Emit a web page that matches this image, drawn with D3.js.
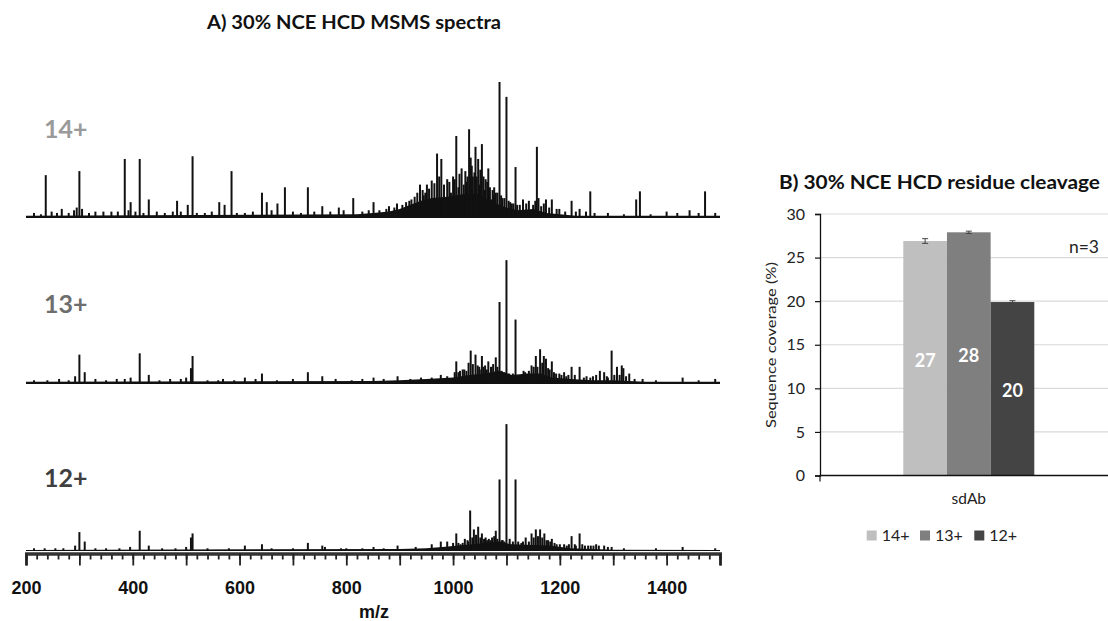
<!DOCTYPE html>
<html>
<head>
<meta charset="utf-8">
<script src="https://cdn.jsdelivr.net/npm/d3@7"></script>
<style>
  body { margin: 0; background: #fff; }
  svg { display: block; }
</style>
</head>
<body>
<svg id="chart" width="1108" height="621"></svg>
<script>
// ---------------- DATA ----------------
const mzMajorTicks = [200, 300, 400, 500, 600, 700, 800, 900, 1000, 1100, 1200, 1300, 1400, 1500];
const mzLabelTicks = [200, 400, 600, 800, 1000, 1200, 1400];
const chargeStates = ["14+", "13+", "12+"];

// peaks: [m/z, relative intensity (%)]
const peaks14 = [
  [237,31],[267,6],[295,7],[300,34],[385,43],[396,11],[413,43],[430,13],[483,12],[503,9],[512,45],
  [562,11],[572,9],[585,34],[642,18],[651,11],[671,10],[685,22],[728,22],[755,8],[786,7],[813,14],
  [851,11],[938,24],[951,24],[960,27],[970,47],[978,43],[989,28],[996,18],[1006,60],[1016,36],
  [1020,24],[1030,65],[1033,44],[1042,52],[1047,43],[1054,54],[1061,28],[1066,36],[1071,13],
  [1080,18],[1087,100],[1092,14],[1100,89],[1104,12],[1117,37],[1131,13],[1142,12],[1157,52],
  [1174,13],[1185,13],[1194,6],[1199,6],[1222,12],[1237,6],[1249,4],[1257,19],[1343,13],[1350,19],
  [1400,4],[1443,5],[1472,19],[1491,3],
  [215,3],[228,2],[248,4],[258,3],[280,3],[290,5],[305,6],[318,3],[330,4],[345,4],[360,4],[372,4],
  [392,5],[405,4],[420,3],[445,4],[460,3],[475,4],[490,4],[520,3],[535,3],[548,4],[595,3],[610,3],
  [625,4],[660,5],[700,4],[715,3],[740,4],[770,4],[795,5],[830,4],[842,5],[862,5],[875,6],[880,8],
  [890,7],[895,10],[905,9],[912,11],[918,12],[922,13],[928,15],[933,18],[945,16],[1010,22],[1025,26],
  [1037,30],[1050,24],[1058,20],[1075,16],[1110,10],[1125,9],[1137,10],[1150,9],[1165,8],[1180,7],
  [1210,4],[1230,4],[1265,3],[1290,3],[1320,2],[1370,2],[1420,3],[1460,3],
  [943,20],[948,18],[955,21],[965,25],[974,30],[983,24],[993,26],[1000,30],[1003,28],[1012,32],
  [1023,34],[1027,30],[1035,38],[1040,33],[1044,30],[1051,35],[1057,30],[1064,26],[1069,22],
  [1074,20],[1077,22],[1083,18],[1090,16],[1096,14],[1107,11],[1113,10],[1120,9],[1154,12],
  [1160,14],[1170,10]
];
const envelope14 = [
  [200,1],[820,2],[850,3],[880,4],[900,6],[920,9],[940,12],[960,14],[990,15],[1020,17],[1045,17],
  [1065,13],[1080,10],[1100,7],[1120,5],[1150,6],[1175,3],[1200,2],[1230,1],[1500,1]
];

const peaks13 = [
  [292,5],[300,21],[310,8],[396,4],[413,22],[430,6],[509,11],[512,20],[569,3],[610,4],[642,7],
  [728,8],[755,5],[851,4],[896,5],[960,4],[977,6],[989,5],[1006,16],[1018,10],[1029,15],[1033,24],
  [1042,21],[1046,13],[1054,20],[1060,13],[1066,16],[1071,12],[1080,19],[1087,60],[1100,91],
  [1105,7],[1117,47],[1122,4],[1135,8],[1142,9],[1147,13],[1155,20],[1158,12],[1163,25],[1170,20],
  [1174,18],[1178,11],[1185,16],[1193,7],[1199,7],[1208,8],[1222,12],[1237,12],[1257,4],[1268,6],
  [1275,9],[1283,8],[1297,24],[1307,12],[1316,13],[1319,11],[1330,7],[1355,3],[1430,4],[1491,3],
  [215,2],[240,2],[262,3],[280,2],[330,3],[350,2],[370,3],[385,3],[450,2],[470,3],[490,3],[500,4],
  [540,2],[560,2],[590,2],[630,3],[670,2],[700,3],[780,3],[810,2],[830,3],[870,3],[920,3],[940,4],
  [1010,8],[1025,9],[1050,10],[1093,8],[1128,6],[1212,5],[1245,4],[1290,4],[1340,3],[1380,2],[1460,2],
  [1003,8],[1013,9],[1021,10],[1037,14],[1049,12],[1057,12],[1063,10],[1075,14],[1083,12],[1091,9],
  [1096,8],[1112,7],[1132,9],[1151,12],[1167,15],[1181,10],[1189,8],[1203,6],[1216,6],[1228,6],
  [1250,5],[1262,5],[1288,5],[1302,6],[1312,6],[1324,5]
];
const envelope13 = [
  [200,1],[850,1.5],[900,2],[950,3],[1000,4],[1030,6],[1060,7],[1085,9],[1110,6],[1140,7],[1165,7],
  [1185,4],[1220,3],[1260,2],[1300,2],[1330,1.5],[1360,1],[1500,1]
];

const peaks12 = [
  [292,4],[300,14],[310,7],[413,15],[430,4],[509,10],[512,13],[610,4],[642,5],[728,6],[755,4],
  [790,2],[851,3],[896,4],[977,7],[989,7],[1006,13],[1014,5],[1022,9],[1032,30],[1039,16],[1047,18],
  [1054,13],[1061,10],[1067,9],[1080,15],[1087,53],[1100,94],[1106,9],[1117,53],[1122,7],[1136,10],
  [1142,7],[1147,13],[1155,16],[1163,16],[1171,13],[1178,8],[1185,9],[1194,5],[1208,5],[1222,11],
  [1237,13],[1247,4],[1258,4],[1268,5],[1283,4],[1297,3],[1430,3],[1491,2],
  [215,2],[235,2],[255,2],[270,2],[330,2],[350,2],[375,2],[395,3],[455,2],[480,2],[500,3],[540,2],
  [580,2],[660,2],[700,2],[760,3],[800,2],[830,2],[870,2],[930,3],[960,5],[1000,6],[1028,7],[1070,8],
  [1093,8],[1128,6],[1213,4],[1230,4],[1320,2],[1380,2],
  [1010,6],[1018,6],[1027,8],[1036,10],[1043,12],[1051,10],[1058,9],[1064,8],[1073,10],[1077,11],
  [1083,9],[1091,8],[1096,7],[1112,7],[1131,7],[1151,10],[1159,11],[1167,10],[1175,8],[1182,7],
  [1190,6],[1200,5],[1217,5],[1228,5],[1242,5],[1253,4],[1263,4],[1273,4],[1290,3]
];
const envelope12 = [
  [200,0.8],[900,1.5],[950,2],[980,3],[1020,4.5],[1060,6],[1085,7],[1110,5],[1150,4.5],[1180,4],
  [1220,2],[1260,1.5],[1300,1],[1500,0.8]
];

// Bar chart (panel B)
const barCategories = ["sdAb"];
const barSeries = ["14+", "13+", "12+"];
const barValues = [26.9, 27.9, 19.9];
const barErrors = [0.27, 0.13, 0.15];
const barYTicks = [0, 5, 10, 15, 20, 25, 30];

// ---------------- STYLE ----------------
const labelColors = ["#9a9a9a", "#6e6e6e", "#404040"];
const barColors = ["#bfbfbf", "#7f7f7f", "#444444"];
const sansA = "Liberation Sans, Arial, sans-serif";
const sansB = "Lato, 'Open Sans', sans-serif";

const svg = d3.select("#chart");
svg.append("rect").attr("width", 1108).attr("height", 621).attr("fill", "#fff");

// ---------------- PANEL A ----------------
const x = d3.scaleLinear().domain([200, 1500]).range([26, 720]);
const baselines = [217, 383, 551];
const peakHeight = 135;
const spectra = [
  { peaks: peaks14, env: envelope14 },
  { peaks: peaks13, env: envelope13 },
  { peaks: peaks12, env: envelope12 }
];
const labelBaselines = [138, 312.5, 487];

svg.append("text")
  .attr("x", 207).attr("y", 29)
  .attr("textLength", 294).attr("lengthAdjust", "spacingAndGlyphs")
  .attr("font-family", sansB).attr("font-weight", "bold").attr("font-size", 19)
  .attr("fill", "#111")
  .text("A) 30% NCE HCD MSMS spectra");

spectra.forEach((s, i) => {
  const b = baselines[i];
  const y = d3.scaleLinear().domain([0, 100]).range([b, b - peakHeight]);
  const g = svg.append("g");
  g.append("path")
    .datum(s.env)
    .attr("d", d3.area().x(d => x(d[0])).y0(b).y1(d => y(d[1])))
    .attr("fill", "#111");
  g.selectAll("line.pk").data(s.peaks).join("line")
    .attr("class", "pk")
    .attr("x1", d => x(d[0])).attr("x2", d => x(d[0]))
    .attr("y1", b).attr("y2", d => y(d[1]))
    .attr("stroke", "#111").attr("stroke-width", 2);
  if (i < 2) {
    g.append("line")
      .attr("x1", x(200)).attr("x2", x(1500))
      .attr("y1", b).attr("y2", b)
      .attr("stroke", "#111").attr("stroke-width", 1.8);
  }
  svg.append("text")
    .attr("x", 44).attr("y", labelBaselines[i])
    .attr("font-family", sansB).attr("font-weight", "bold").attr("font-size", 25)
    .attr("fill", labelColors[i])
    .text(chargeStates[i]);
});

// m/z axis
const axisY = 553.5;
const minorAxis = svg.append("g").attr("transform", `translate(0,${axisY})`)
  .call(d3.axisBottom(x).tickValues(d3.range(200, 1501, 20)).tickSize(6).tickFormat(""));
const majorAxis = svg.append("g").attr("transform", `translate(0,${axisY})`)
  .call(d3.axisBottom(x).tickValues(mzMajorTicks).tickSize(12).tickPadding(16)
    .tickFormat(d => mzLabelTicks.includes(d) ? d : ""));
[minorAxis, majorAxis].forEach(a => {
  a.selectAll(".tick line").attr("stroke", "#222").attr("stroke-width", 1.8);
  a.select(".domain").attr("stroke", "#333").attr("stroke-width", 2.8);
});
majorAxis.selectAll("text")
  .attr("font-family", sansA).attr("font-weight", "bold").attr("font-size", 18).attr("fill", "#111");
svg.append("text")
  .attr("x", 374).attr("y", 618).attr("text-anchor", "middle")
  .attr("font-family", sansA).attr("font-weight", "bold").attr("font-size", 18).attr("fill", "#111")
  .text("m/z");

// ---------------- PANEL B ----------------
const plotL = 820, plotR = 1117.6;
const yB = d3.scaleLinear().domain([0, 30]).range([475.5, 214]);
const xB = d3.scaleBand().domain(barCategories).range([plotL, plotR]).paddingInner(0).paddingOuter(0.636);
const xS = d3.scaleBand().domain(barSeries).range([0, xB.bandwidth()]).padding(0);

svg.append("text")
  .attr("x", 779).attr("y", 189)
  .attr("textLength", 321).attr("lengthAdjust", "spacingAndGlyphs")
  .attr("font-family", sansB).attr("font-weight", "bold").attr("font-size", 18.5).attr("fill", "#111")
  .text("B) 30% NCE HCD residue cleavage");

// grid
svg.append("g").selectAll("line").data(barYTicks.filter(t => t > 0)).join("line")
  .attr("x1", plotL).attr("x2", plotR)
  .attr("y1", d => yB(d)).attr("y2", d => yB(d))
  .attr("stroke", "#d9d9d9").attr("stroke-width", 1.2);

// bars
const gBars = svg.append("g");
barCategories.forEach(cat => {
  barSeries.forEach((s, i) => {
    const x0 = xB(cat) + xS(s);
    gBars.append("rect")
      .attr("x", x0).attr("width", xS.bandwidth())
      .attr("y", yB(barValues[i])).attr("height", yB(0) - yB(barValues[i]))
      .attr("fill", barColors[i]);
    const cx = x0 + xS.bandwidth() / 2;
    const e = gBars.append("g").attr("stroke", "#444").attr("stroke-width", 1);
    e.append("line").attr("x1", cx).attr("x2", cx)
      .attr("y1", yB(barValues[i] - barErrors[i])).attr("y2", yB(barValues[i] + barErrors[i]));
    [barValues[i] - barErrors[i], barValues[i] + barErrors[i]].forEach(v => {
      e.append("line").attr("x1", cx - 3).attr("x2", cx + 3).attr("y1", yB(v)).attr("y2", yB(v));
    });
    gBars.append("text")
      .attr("x", cx).attr("y", yB(barValues[i] / 2) + 8.5)
      .attr("text-anchor", "middle")
      .attr("font-family", sansB).attr("font-weight", "bold").attr("font-size", 18)
      .attr("fill", "#fff")
      .text(Math.round(barValues[i]));
  });
});

// axes
const yAxisB = svg.append("g").attr("transform", `translate(${plotL},0)`)
  .call(d3.axisLeft(yB).tickValues(barYTicks).tickSize(5).tickPadding(10));
yAxisB.select(".domain").attr("stroke", "#111").attr("stroke-width", 1.3);
yAxisB.selectAll(".tick line").attr("stroke", "#111").attr("stroke-width", 1.2);
yAxisB.selectAll("text").attr("font-family", sansB).attr("font-size", 16).attr("fill", "#222");

svg.append("line").attr("x1", plotL).attr("x2", plotR)
  .attr("y1", yB(0)).attr("y2", yB(0)).attr("stroke", "#111").attr("stroke-width", 1.5);
svg.append("line").attr("x1", plotL).attr("x2", plotL)
  .attr("y1", yB(0)).attr("y2", yB(0) + 6).attr("stroke", "#111").attr("stroke-width", 1.2);

svg.append("text")
  .attr("x", xB("sdAb") + xB.bandwidth() / 2).attr("y", 504)
  .attr("text-anchor", "middle")
  .attr("font-family", sansB).attr("font-size", 15.5).attr("fill", "#222")
  .text(barCategories[0]);

svg.append("text")
  .attr("transform", "translate(776,345) rotate(-90)")
  .attr("text-anchor", "middle")
  .attr("textLength", 166).attr("lengthAdjust", "spacingAndGlyphs")
  .attr("font-family", sansB).attr("font-size", 14).attr("fill", "#222")
  .text("Sequence coverage (%)");

svg.append("text")
  .attr("x", 1099).attr("y", 253).attr("text-anchor", "end")
  .attr("font-family", sansB).attr("font-size", 17.5).attr("fill", "#222")
  .text("n=3");

// legend
const legendX = [866.7, 920, 974.3];
barSeries.forEach((s, i) => {
  svg.append("rect").attr("x", legendX[i]).attr("y", 530.5).attr("width", 10).attr("height", 10)
    .attr("fill", barColors[i]);
  svg.append("text").attr("x", legendX[i] + 15).attr("y", 540.5)
    .attr("font-family", sansB).attr("font-size", 16).attr("fill", "#222")
    .text(s);
});
</script>
</body>
</html>
